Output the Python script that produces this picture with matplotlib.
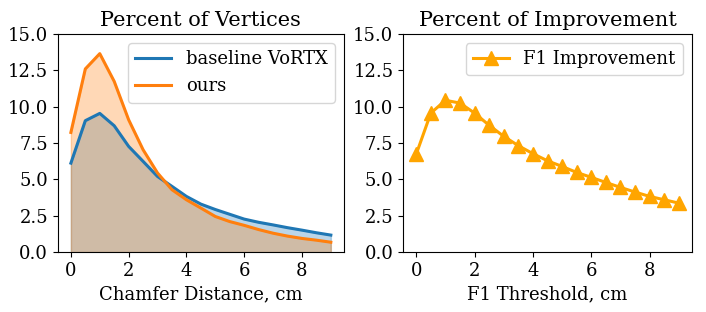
import matplotlib
matplotlib.use("Agg")
import matplotlib.pyplot as plt

plt.rcParams["font.family"] = "DejaVu Serif"
plt.rcParams["font.size"] = 13

# data
thresholds = [0, 0.5, 1, 1.5, 2, 2.5, 3, 3.5, 4, 4.5, 5, 5.5, 6, 6.5, 7, 7.5, 8, 8.5, 9]
baseline = [6.12, 9.04, 9.54, 8.69, 7.27, 6.24, 5.2, 4.52, 3.83, 3.3, 2.93, 2.6,
            2.27, 2.05, 1.87, 1.68, 1.51, 1.33, 1.17]
ours = [8.23, 12.6, 13.65, 11.74, 9.1, 7.04, 5.44, 4.29, 3.6, 3.03, 2.45, 2.1,
        1.84, 1.55, 1.3, 1.1, 0.94, 0.82, 0.68]
f1_gain = [6.74, 9.56, 10.44, 10.25, 9.56, 8.72, 7.96, 7.32, 6.77, 6.28, 5.89,
           5.48, 5.14, 4.79, 4.45, 4.13, 3.83, 3.6, 3.37]

fig = plt.figure(figsize=(7.06, 3.12), dpi=100)
ax1 = fig.add_axes([0.082, 0.192, 0.405, 0.699])
ax2 = fig.add_axes([0.571, 0.192, 0.409, 0.699])

# left: distribution of vertex distances
ax1.plot(thresholds, baseline, color="C0", lw=2.2, label="baseline VoRTX")
ax1.fill_between(thresholds, baseline, color="C0", alpha=0.3)
ax1.plot(thresholds, ours, color="C1", lw=2.2, label="ours")
ax1.fill_between(thresholds, ours, color="C1", alpha=0.3)
ax1.set_ylim(0, 15)
ax1.set_title("Percent of Vertices", fontsize=15)
ax1.set_xlabel("Chamfer Distance, cm")
ax1.legend(loc="upper right")

# right: F1 improvement
ax2.plot(thresholds, f1_gain, color="orange", lw=2.2, marker="^", markersize=10,
         label="F1 Improvement")
ax2.set_ylim(0, 15)
ax2.set_title("Percent of Improvement", fontsize=15)
ax2.set_xlabel("F1 Threshold, cm")
ax2.legend(loc="upper right")

fig.savefig("out.png", dpi=100)
